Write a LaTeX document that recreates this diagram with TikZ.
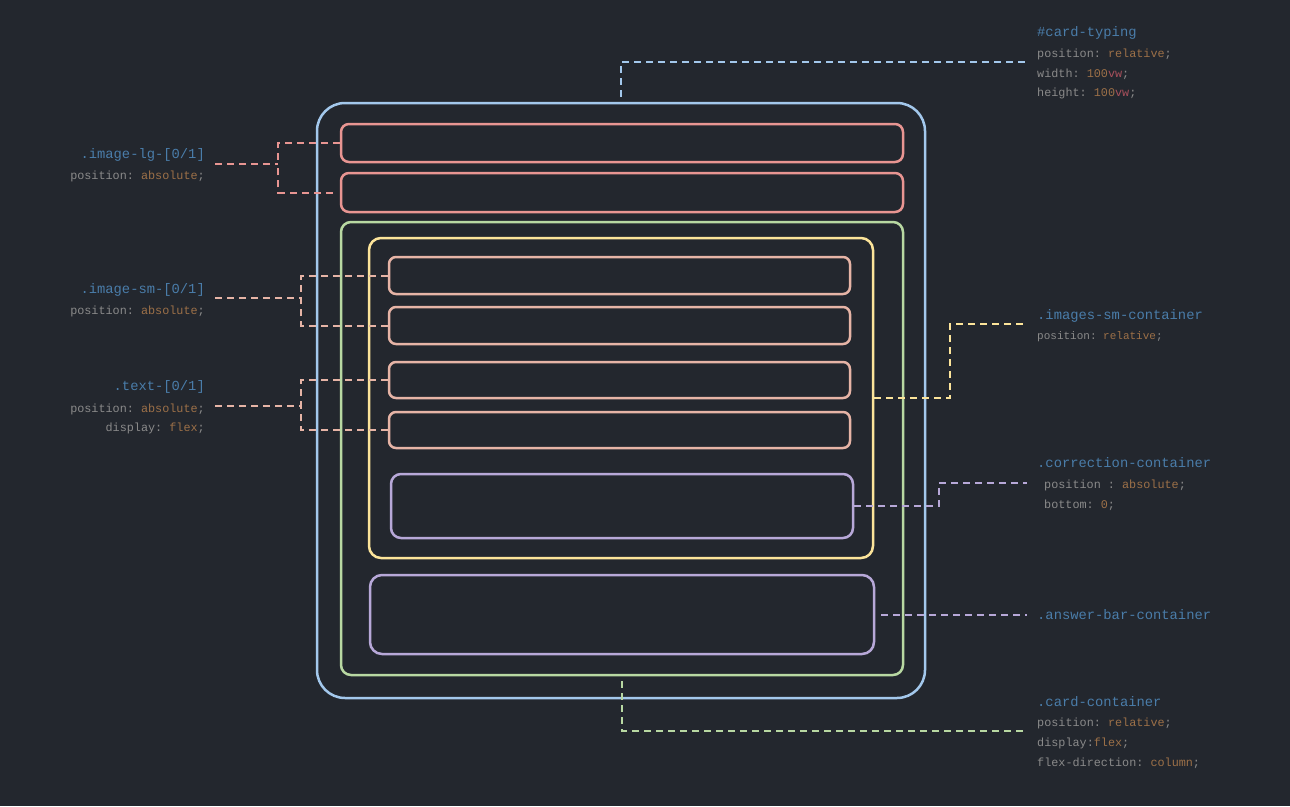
\documentclass[tikz,border=0pt]{standalone}
\usepackage{fontspec}
\setmonofont{Liberation Mono}
\definecolor{bg}{HTML}{23272E}
\definecolor{cblue}{HTML}{A3C8EC}
\definecolor{cred}{HTML}{E89592}
\definecolor{cgreen}{HTML}{B8D8A2}
\definecolor{cyellow}{HTML}{FCE49A}
\definecolor{csalmon}{HTML}{E6B4A6}
\definecolor{cpurple}{HTML}{B7A8D8}
\definecolor{ctitle}{HTML}{4A7DAA}
\definecolor{cprop}{HTML}{8A8A8A}
\definecolor{cval}{HTML}{9C7048}
\definecolor{cunit}{HTML}{A8505C}
\newcommand\vv[1]{\textcolor{cval}{#1}}
\newcommand\uu[1]{\textcolor{cunit}{#1}}
\begin{document}
\begin{tikzpicture}[x=1pt,y=-1pt,
  box/.style={draw,line width=2.5pt,inner sep=0pt,fill=none},
  conn/.style={line width=2pt,dash pattern=on 7pt off 5pt},
  title/.style={inner sep=0pt,yshift=-2pt,text=ctitle,font=\fontsize{13.8}{16}\selectfont\ttfamily},
  prop/.style={inner sep=0pt,yshift=-2pt,text=cprop,font=\fontsize{11.8}{14}\selectfont\ttfamily},
  propsm/.style={inner sep=0pt,yshift=-2pt,text=cprop,font=\fontsize{11}{13}\selectfont\ttfamily}]
\fill[bg] (0,0) rectangle (1290,806);
\useasboundingbox (0,0) rectangle (1290,806);

% boxes
\node[box,draw=cblue,rounded corners=28pt,minimum width=608,minimum height=595] (card) at (621,400.5) {};
\node[box,draw=cred,rounded corners=8pt,minimum width=562,minimum height=38] (lg1) at (622,143) {};
\node[box,draw=cred,rounded corners=8pt,minimum width=562,minimum height=39] (lg2) at (622,192.5) {};
\node[box,draw=cgreen,rounded corners=10pt,minimum width=562,minimum height=453] (green) at (622,448.5) {};
\node[box,draw=cyellow,rounded corners=12pt,minimum width=504,minimum height=320] (yellow) at (621,398) {};
\node[box,draw=csalmon,rounded corners=7pt,minimum width=461,minimum height=37] (s1) at (619.5,275.5) {};
\node[box,draw=csalmon,rounded corners=7pt,minimum width=461,minimum height=37] (s2) at (619.5,325.5) {};
\node[box,draw=csalmon,rounded corners=7pt,minimum width=461,minimum height=36] (t1) at (619.5,380) {};
\node[box,draw=csalmon,rounded corners=7pt,minimum width=461,minimum height=36] (t2) at (619.5,430) {};
\node[box,draw=cpurple,rounded corners=10pt,minimum width=462,minimum height=64] (corr) at (622,506) {};
\node[box,draw=cpurple,rounded corners=12pt,minimum width=504,minimum height=79] (ans) at (622,614.5) {};

% texts
\node[title,anchor=mid west] (ctT) at (1037,32) {\#card-typing};
\node[prop,anchor=mid west] (ctP1) at (1037,53) {position: \vv{relative};};
\node[prop,anchor=mid west] (ctP2) at (1037,73) {width: \vv{100}\uu{vw};};
\node[prop,anchor=mid west] (ctP3) at (1037,92) {height: \vv{100}\uu{vw};};

\node[title,anchor=mid east] (lgT) at (205,154) {.image-lg-[0/1]};
\node[prop,anchor=mid east] (lgP) at (205,175) {position: \vv{absolute};};

\node[title,anchor=mid east] (smT) at (205,289) {.image-sm-[0/1]};
\node[prop,anchor=mid east] (smP) at (205,310) {position: \vv{absolute};};

\node[title,anchor=mid east] (txT) at (205,386) {.text-[0/1]};
\node[prop,anchor=mid east] (txP1) at (205,408) {position: \vv{absolute};};
\node[prop,anchor=mid east] (txP2) at (205,427) {display: \vv{flex};};

\node[title,anchor=mid west] (ysT) at (1037,315) {.images-sm-container};
\node[propsm,anchor=mid west] (ysP) at (1037,335) {position: \vv{relative};};

\node[title,anchor=mid west] (coT) at (1037,463) {.correction-container};
\node[prop,anchor=mid west] (coP1) at (1044,484) {position : \vv{absolute};};
\node[prop,anchor=mid west] (coP2) at (1044,504) {bottom: \vv{0};};

\node[title,anchor=mid west] (abT) at (1037,615) {.answer-bar-container};

\node[title,anchor=mid west] (ccT) at (1037,702) {.card-container};
\node[prop,anchor=mid west] (ccP1) at (1037,722) {position: \vv{relative};};
\node[prop,anchor=mid west] (ccP2) at (1037,742) {display:\vv{flex};};
\node[prop,anchor=mid west] (ccP3) at (1037,762) {flex-direction: \vv{column};};

% connector coordinates
\coordinate (ctEnd) at (1027,62);
\coordinate (lgL) at (215,164);
\coordinate (lgJ) at (278,164);
\coordinate (smL) at (215,298);
\coordinate (smJ) at (301,298);
\coordinate (txL) at (215,406);
\coordinate (txJ) at (301,406);
\coordinate (yK) at (950,324);
\coordinate (yEnd) at (1027,324);
\coordinate (cK) at (939,483);
\coordinate (cEnd) at (1027,483);
\coordinate (aEnd) at (1027,614.5);
\coordinate (gEnd) at (1027,731);

% connectors
\draw[conn,cblue] ([yshift=5pt]card.north) |- (ctEnd);
\draw[conn,cred] (lgL) -- (lgJ);
\draw[conn,cred] (lg1.west) -| (lgJ);
\draw[conn,cred] ([xshift=-7pt]lg2.west) -| (lgJ);
\draw[conn,csalmon] (smL) -- (smJ);
\draw[conn,csalmon] (s1.west) -| (smJ);
\draw[conn,csalmon] (s2.west) -| (smJ);
\draw[conn,csalmon] (txL) -- (txJ);
\draw[conn,csalmon] (t1.west) -| (txJ);
\draw[conn,csalmon] (t2.west) -| (txJ);
\draw[conn,cyellow] (yellow.east) -| (yK) -- (yEnd);
\draw[conn,cpurple] (corr.east) -| (cK) -- (cEnd);
\draw[conn,cpurple] ([xshift=6pt]ans.east) -- (aEnd);
\draw[conn,cgreen] ([yshift=-5pt]green.south) |- (gEnd);
\end{tikzpicture}
\end{document}
